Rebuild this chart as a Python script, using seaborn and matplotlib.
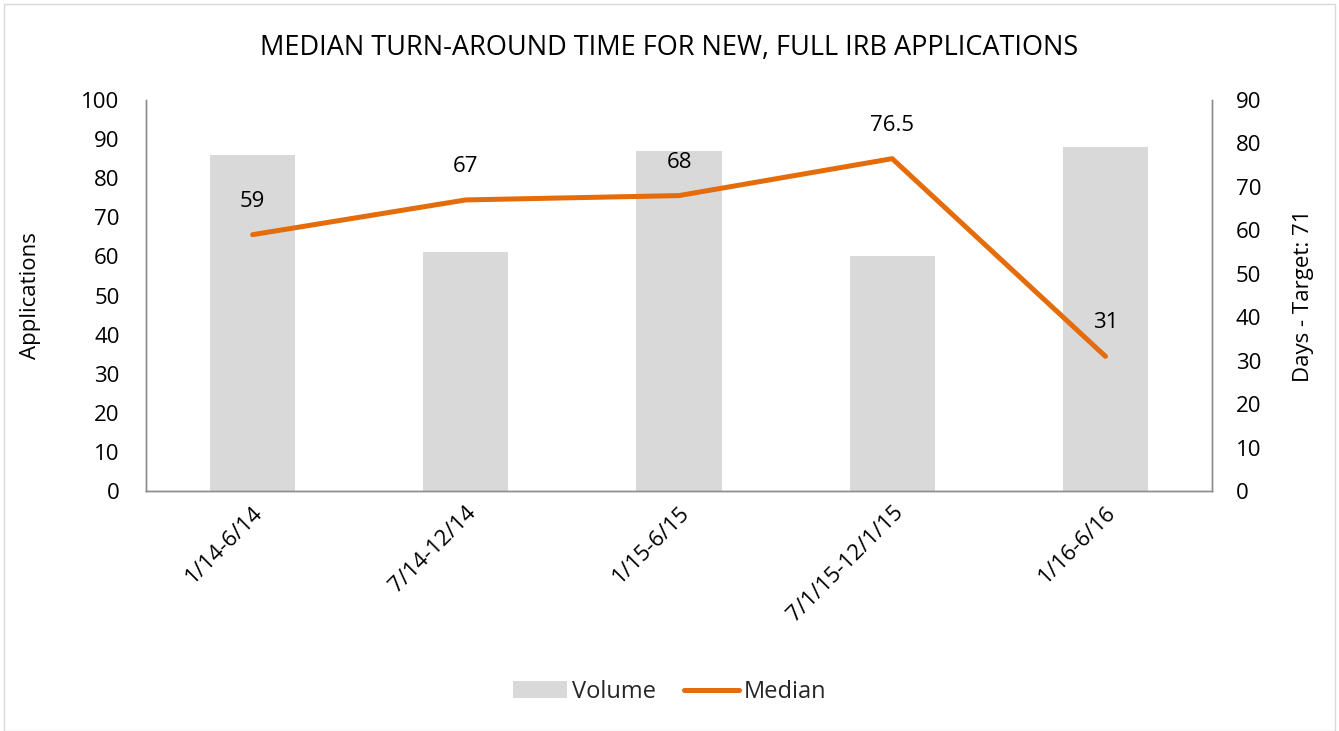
import matplotlib
matplotlib.use("Agg")
import matplotlib.pyplot as plt
import seaborn as sns
import pandas as pd
from matplotlib.patches import Patch, Rectangle
from matplotlib.lines import Line2D

periods = ["1/14-6/14", "7/14-12/14", "1/15-6/15", "7/1/15-12/1/15", "1/16-6/16"]
volume = [86, 61, 87, 60, 88]
median = [59, 67, 68, 76.5, 31]
median_labels = ["59", "67", "68", "76.5", "31"]

sns.set_theme(style="white")
plt.rcParams['font.family'] = ['Open Sans', 'DejaVu Sans']

df = pd.DataFrame({"period": periods, "volume": volume, "median": median})

fig = plt.figure(figsize=(13.39, 7.31), dpi=100)
ax = fig.add_axes([146/1339, 1-491/731, (1212-146)/1339, (491-100)/731])

bar_color = "#D9D9D9"
line_color = "#E46C0A"
text_color = "#000000"
spine_color = "#8C8C8C"
fs = 16

sns.barplot(data=df, x="period", y="volume", color=bar_color, width=0.4,
            saturation=1, ax=ax, edgecolor="none")
ax.set_ylim(0, 100)
ax.set_yticks(range(0, 101, 10))
ax.set_xlim(-0.5, 4.5)
ax.set_xlabel("")
ax.set_ylabel("Applications", fontsize=fs, color=text_color, labelpad=29)
ax.tick_params(axis="y", labelsize=fs, colors=text_color, length=0, pad=19)
ax.tick_params(axis="x", labelsize=fs, colors=text_color, length=0, pad=8)
for lbl in ax.get_xticklabels():
    lbl.set_rotation(45)
    lbl.set_ha("right")
    lbl.set_rotation_mode("anchor")

ax2 = ax.twinx()
sns.lineplot(x=list(range(len(periods))), y=median, ax=ax2, color=line_color,
             linewidth=3.6, solid_capstyle="round", solid_joinstyle="round")
ax2.set_ylim(0, 90)
ax2.set_yticks(range(0, 91, 10))
ax2.set_ylabel("Days - Target: 71", fontsize=fs, color=text_color, labelpad=23)
ax2.tick_params(axis="y", labelsize=fs, colors=text_color, length=0, pad=17)
for i, (v, t) in enumerate(zip(median, median_labels)):
    ax2.annotate(t, (i, v), xytext=(0, 24), textcoords="offset points",
                 ha="center", va="center", fontsize=fs, color=text_color)

for a in (ax, ax2):
    a.spines["top"].set_visible(False)
    for s in ("left", "right", "bottom"):
        a.spines[s].set_color(spine_color)
        a.spines[s].set_linewidth(1)

fig.text(0.5, 1-48/731, "MEDIAN TURN-AROUND TIME FOR NEW, FULL IRB APPLICATIONS",
         ha="center", va="center", fontsize=19.5, color=text_color)

handles = [Patch(facecolor=bar_color, edgecolor="none", label="Volume"),
           Line2D([0], [0], color=line_color, linewidth=3.6, solid_capstyle="round", label="Median")]
fig.legend(handles=handles, loc="center", bbox_to_anchor=(0.5, 1-692/731), ncol=2,
           frameon=False, fontsize=17, handlelength=2.3, handletextpad=0.2, columnspacing=1.2)

fig.patches.append(Rectangle((4/1339, 0), 1-8/1339, 1-4/731, transform=fig.transFigure,
                             fill=False, edgecolor="#D9D9D9", linewidth=1))

fig.savefig("out.png", dpi=100)
